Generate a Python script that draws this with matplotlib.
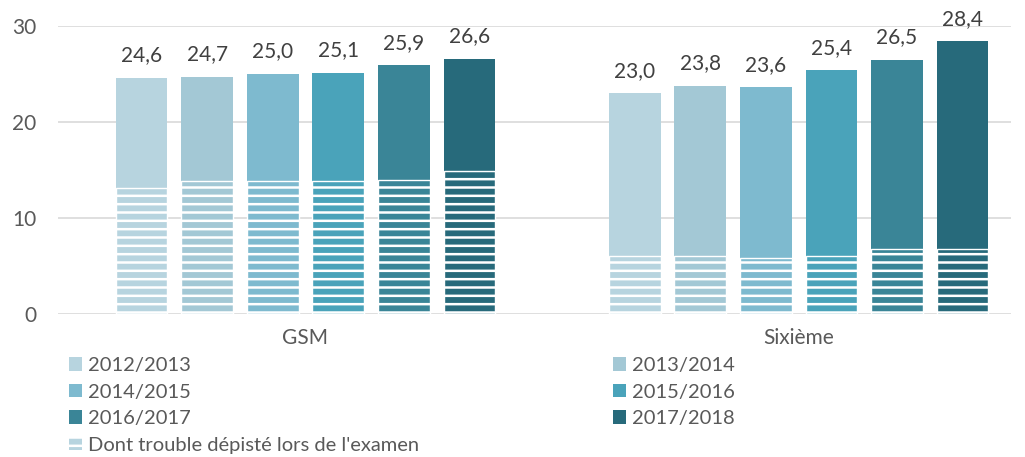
import matplotlib.pyplot as plt
import numpy as np
from matplotlib.patches import Patch

plt.rcParams['font.family'] = ['Lato', 'DejaVu Sans']
plt.rcParams['hatch.linewidth'] = 1.8

groups = ['GSM', 'Sixième']
years = ['2012/2013', '2013/2014', '2014/2015', '2015/2016', '2016/2017', '2017/2018']
colors = ['#B7D4DF', '#A3C8D5', '#7EBACF', '#4AA3BA', '#3A8597', '#276A7B']

# total per year, per group
gsm_total = [24.6, 24.7, 25.0, 25.1, 25.9, 26.6]
six_total = [23.0, 23.8, 23.6, 25.4, 26.5, 28.4]
# of which: trouble found during the exam
gsm_exam = [13.1, 13.9, 13.9, 13.9, 14.0, 14.9]
six_exam = [6.0, 6.0, 5.8, 6.0, 6.8, 6.8]

totals = np.array([gsm_total, six_total])
exams = np.array([gsm_exam, six_exam])

text_color = '#595959'
grid_color = '#D9D9D9'

fig = plt.figure(figsize=(10.25, 4.57), dpi=100)
ax = fig.add_axes([0.057, 0.313, 0.929, 0.630])

step = 0.133
width = 0.105
centers = np.arange(len(groups))
for i, (year, color) in enumerate(zip(years, colors)):
    xs = centers + (i - 2.5) * step
    ax.bar(xs, totals[:, i], width, color=color, zorder=2)
    ax.bar(xs, exams[:, i], width, color=color, edgecolor='white',
           linewidth=1.0, hatch='--', zorder=3)
    for x, v in zip(xs, totals[:, i]):
        ax.annotate(f'{v:.1f}'.replace('.', ','), (x, v),
                    xytext=(0, 9), textcoords='offset points',
                    ha='center', va='bottom', fontsize=15, color='#404040')

ax.set_xlim(-0.501, 1.430)
ax.set_ylim(0, 30)
ax.set_yticks([0, 10, 20, 30])
ax.set_xticks(centers)
ax.set_xticklabels(groups)
ax.tick_params(axis='both', length=0, labelsize=15, colors=text_color)
ax.tick_params(axis='y', pad=16)
ax.tick_params(axis='x', pad=10)
ax.yaxis.grid(True, color=grid_color, linewidth=1.2, zorder=0)
ax.set_axisbelow(True)
for name, sp in ax.spines.items():
    sp.set_visible(False)

handles = [Patch(facecolor=c, edgecolor='none') for c in colors]
exam_handle = Patch(facecolor=colors[0], edgecolor='white', linewidth=0, hatch='--')

leg_kw = dict(frameon=False, fontsize=14.5, labelcolor=text_color,
              handlelength=0.65, handleheight=0.65, handletextpad=0.3,
              labelspacing=0.47, borderaxespad=0)
fig.legend([handles[0], handles[2], handles[4], exam_handle],
           [years[0], years[2], years[4], "Dont trouble dépisté lors de l'examen"],
           loc='upper left', bbox_to_anchor=(0.059, 0.236), **leg_kw)
fig.legend([handles[1], handles[3], handles[5]],
           [years[1], years[3], years[5]],
           loc='upper left', bbox_to_anchor=(0.590, 0.236), **leg_kw)

fig.savefig('out.png', dpi=100)
